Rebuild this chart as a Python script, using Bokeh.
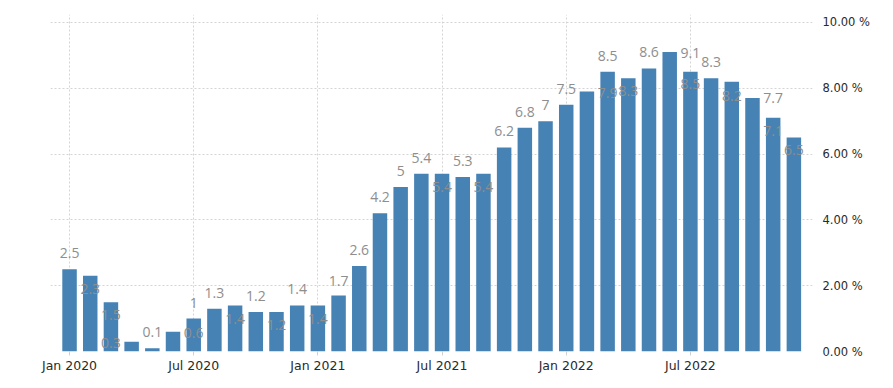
from bokeh.plotting import figure
from bokeh.models import ColumnDataSource, Range1d, FixedTicker, LinearAxis
from bokeh.core.properties import value
from bokeh.embed import file_html
from bokeh.resources import INLINE

months = ["Jan 2020", "Feb 2020", "Mar 2020", "Apr 2020", "May 2020", "Jun 2020",
          "Jul 2020", "Aug 2020", "Sep 2020", "Oct 2020", "Nov 2020", "Dec 2020",
          "Jan 2021", "Feb 2021", "Mar 2021", "Apr 2021", "May 2021", "Jun 2021",
          "Jul 2021", "Aug 2021", "Sep 2021", "Oct 2021", "Nov 2021", "Dec 2021",
          "Jan 2022", "Feb 2022", "Mar 2022", "Apr 2022", "May 2022", "Jun 2022",
          "Jul 2022", "Aug 2022", "Sep 2022", "Oct 2022", "Nov 2022", "Dec 2022"]
inflation = [2.5, 2.3, 1.5, 0.3, 0.1, 0.6, 1.0, 1.3, 1.4, 1.2, 1.2, 1.4,
             1.4, 1.7, 2.6, 4.2, 5.0, 5.4, 5.4, 5.3, 5.4, 6.2, 6.8, 7.0,
             7.5, 7.9, 8.5, 8.3, 8.6, 9.1, 8.5, 8.3, 8.2, 7.7, 7.1, 6.5]
x_tick_labels = {0: "Jan 2020", 6: "Jul 2020", 12: "Jan 2021", 18: "Jul 2021",
                 24: "Jan 2022", 30: "Jul 2022"}
y_ticks = [0, 2, 4, 6, 8, 10]

# label placement styling (shift in bar slots, pixel offset from bar top)
label_shift = [0, 0, 0, -1, 0, 1, 0, 0, 0, 0, 0, 0,
               0, 0, 0, 0, 0, 0, 0, 0, 0, 0, 0, 0,
               0, 1, 0, 0, 0, 1, 0, 0, 0, 1, 0, 0]
label_dy = [-16, 13, 13, 1, -16, 1, -16, -16, 14, -16, 13, -16,
            14, -15, -16, -16, -16, -16, 13, -16, 13, -16, -16, -16,
            -16, 1, -16, 13, -16, 1, 12, -16, 14, 0, 13, 12]

idx = list(range(len(months)))
labels = [("%g" % v) for v in inflation]
src = ColumnDataSource(dict(x=idx, top=inflation))
lsrc = ColumnDataSource(dict(x=[i + s for i, s in zip(idx, label_shift)],
                             y=inflation, text=labels, dy=label_dy))

p = figure(width=880, height=380, output_backend="svg", toolbar_location=None,
           x_range=Range1d(-0.92, 35.9), y_range=Range1d(0, 10.24),
           min_border_left=50, min_border_right=68, min_border_top=14,
           min_border_bottom=29, y_axis_location=None)
p.outline_line_color = None
p.background_fill_color = "white"

p.vbar(x="x", top="top", width=0.7, source=src, fill_color="#4682B4",
       line_color=None)
p.text(x="x", y="y", text="text", y_offset="dy", source=lsrc,
       text_font=value("Open Sans"), text_font_size="14px", text_color="#8e8e8e",
       text_align="center", text_baseline="middle")

yaxis = LinearAxis(ticker=FixedTicker(ticks=y_ticks))
yaxis.major_label_overrides = {t: "%.2f %%" % t for t in y_ticks}
yaxis.axis_line_color = None
yaxis.major_tick_line_color = None
yaxis.minor_tick_line_color = None
yaxis.major_label_standoff = 4
yaxis.major_label_text_font = "DejaVu Sans"
yaxis.major_label_text_font_size = "11.5px"
yaxis.major_label_text_color = "#2a2a2a"
p.add_layout(yaxis, "right")

xa = p.xaxis[0]
xa.ticker = FixedTicker(ticks=list(x_tick_labels.keys()))
xa.major_label_overrides = x_tick_labels
xa.axis_line_color = None
xa.major_tick_line_color = "#d0d0d0"
xa.major_tick_in = 0
xa.major_tick_out = 4
xa.minor_tick_line_color = None
xa.major_label_standoff = 2
xa.major_label_text_font = "DejaVu Sans"
xa.major_label_text_font_size = "12.5px"
xa.major_label_text_color = "#2a2a2a"

p.xgrid.ticker = FixedTicker(ticks=list(x_tick_labels.keys()))
p.xgrid.grid_line_color = "#d4d4d4"
p.xgrid.grid_line_dash = "2 2"
p.ygrid.ticker = FixedTicker(ticks=y_ticks)
p.ygrid.grid_line_color = "#d4d4d4"
p.ygrid.grid_line_dash = "2 2"

open("out.html", "w").write(file_html(p, INLINE))
